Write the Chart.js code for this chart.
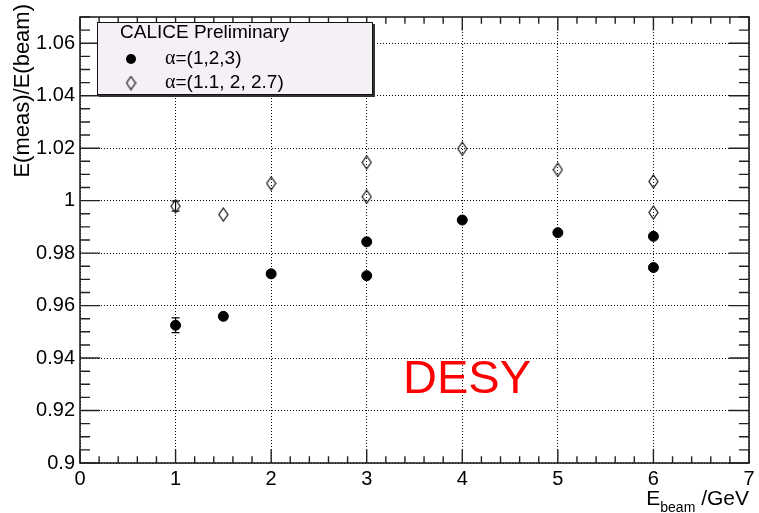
<!DOCTYPE html>
<html>
<head>
<meta charset="utf-8">
<script src="https://cdn.jsdelivr.net/npm/chart.js@4.4.1/dist/chart.umd.min.js"></script>
<style>
  html, body { margin: 0; padding: 0; background: #fff; }
  #wrap { width: 759px; height: 513px; }
</style>
</head>
<body>
<div id="wrap"><canvas id="grafico" width="759" height="513"></canvas></div>
<script>
// beam energies (GeV)
var energia = [1, 1.5, 2, 3, 3, 4, 5, 6, 6];
// E(meas)/E(beam), alpha = (1,2,3)
var razaoA = [0.9525, 0.9559, 0.9721, 0.9843, 0.9714, 0.9926, 0.9878, 0.9864, 0.9745];
var erroA = [0.0028, 0, 0, 0, 0, 0, 0, 0, 0];
// E(meas)/E(beam), alpha = (1.1, 2, 2.7)
var razaoB = [0.9979, 0.9947, 1.0066, 1.0146, 1.0015, 1.0198, 1.0118, 1.0073, 0.9955];
var erroB = [0.0019, 0, 0, 0, 0, 0, 0, 0, 0];

var legendaTitulo = "CALICE Preliminary";
var legendaA = "=(1,2,3)";
var legendaB = "=(1.1, 2, 2.7)";

var fonte = "'Liberation Sans', Arial, sans-serif";

// open diamond marker
var losango = document.createElement("canvas");
losango.width = 11;
losango.height = 15;
(function () {
    var c = losango.getContext("2d");
    c.strokeStyle = "#222";
    c.lineWidth = 1.3;
    c.beginPath();
    c.moveTo(5.5, 1);
    c.lineTo(10, 7.5);
    c.lineTo(5.5, 14);
    c.lineTo(1, 7.5);
    c.closePath();
    c.stroke();
})();

function pontos(xs, ys) {
    return xs.map(function (x, i) { return { x: x, y: ys[i] }; });
}

// error bars, drawn under the markers
var barrasErro = {
    id: "barrasErro",
    beforeDatasetsDraw: function (chart) {
        var ctx = chart.ctx, sx = chart.scales.x, sy = chart.scales.y;
        var grupos = [[razaoA, erroA], [razaoB, erroB]];
        ctx.save();
        ctx.strokeStyle = "#000";
        ctx.lineWidth = 1.2;
        grupos.forEach(function (g) {
            g[0].forEach(function (v, i) {
                var e = g[1][i];
                if (!e) return;
                var px = sx.getPixelForValue(energia[i]);
                var y1 = sy.getPixelForValue(v + e), y2 = sy.getPixelForValue(v - e);
                ctx.beginPath();
                ctx.moveTo(px, y1); ctx.lineTo(px, y2);
                ctx.moveTo(px - 4, y1); ctx.lineTo(px + 4, y1);
                ctx.moveTo(px - 4, y2); ctx.lineTo(px + 4, y2);
                ctx.stroke();
            });
        });
        ctx.restore();
    }
};

// frame with major/minor ticks on all four sides, titles, legend box and label
var moldura = {
    id: "moldura",
    afterDraw: function (chart) {
        var ctx = chart.ctx, a = chart.chartArea;
        var sx = chart.scales.x, sy = chart.scales.y;
        var w = a.right - a.left, h = a.bottom - a.top;
        ctx.save();
        ctx.strokeStyle = "#222";
        ctx.lineWidth = 1.4;
        ctx.beginPath();
        // x ticks, every 0.2
        for (var k = 0; k <= 35; k++) {
            var px = sx.getPixelForValue(k * 0.2);
            var len = (k % 5 === 0) ? 0.03 * h : 0.015 * h;
            ctx.moveTo(px, a.bottom); ctx.lineTo(px, a.bottom - len);
            ctx.moveTo(px, a.top); ctx.lineTo(px, a.top + len);
        }
        // y ticks, every 0.005
        for (var j = 0; j <= 34; j++) {
            var py = sy.getPixelForValue(0.9 + j * 0.005);
            var l2 = (j % 4 === 0) ? 0.03 * w : 0.015 * w;
            ctx.moveTo(a.left, py); ctx.lineTo(a.left + l2, py);
            ctx.moveTo(a.right, py); ctx.lineTo(a.right - l2, py);
        }
        ctx.stroke();
        ctx.lineWidth = 1.6;
        ctx.strokeRect(a.left, a.top, w, h);

        // axis titles
        ctx.fillStyle = "#000";
        ctx.font = "21px " + fonte;
        ctx.textBaseline = "alphabetic";
        ctx.textAlign = "right";
        ctx.fillText(" /GeV", a.right, 505);
        var wGeV = ctx.measureText(" /GeV").width;
        ctx.font = "14px " + fonte;
        var wSub = ctx.measureText("beam").width;
        ctx.fillText("beam", a.right - wGeV, 512);
        ctx.font = "21px " + fonte;
        ctx.fillText("E", a.right - wGeV - wSub, 505);

        ctx.save();
        ctx.translate(29, 4);
        ctx.rotate(-Math.PI / 2);
        ctx.textAlign = "right";
        ctx.font = "22px " + fonte;
        ctx.fillText("E(meas)/E(beam)", 0, 0);
        ctx.restore();

        // legend
        ctx.fillStyle = "#333";
        ctx.fillRect(99, 24, 276, 73);
        ctx.fillStyle = "#f5f0f5";
        ctx.fillRect(97, 22, 276, 73);
        ctx.strokeStyle = "#111";
        ctx.lineWidth = 1;
        ctx.strokeRect(97.5, 22.5, 275, 72);

        ctx.fillStyle = "#000";
        ctx.textAlign = "left";
        ctx.textBaseline = "middle";
        ctx.font = "19px " + fonte;
        ctx.fillText(legendaTitulo, 120, 33);

        ctx.beginPath();
        ctx.arc(131, 59, 5, 0, Math.PI * 2);
        ctx.fill();
        ctx.drawImage(losango, 131 - 5.5, 83 - 7.5);

        [[legendaA, 59], [legendaB, 83]].forEach(function (r) {
            ctx.font = "20px 'Liberation Serif', serif";
            ctx.fillText("\u03b1", 165, r[1]);
            var wa = ctx.measureText("\u03b1").width;
            ctx.font = "19px " + fonte;
            ctx.fillText(r[0], 165 + wa, r[1]);
        });

        // DESY label
        ctx.fillStyle = "#ff0000";
        ctx.textBaseline = "alphabetic";
        ctx.font = "47px " + fonte;
        ctx.fillText("DESY", 403, 393);
        ctx.restore();
    }
};

function rotuloY(v) {
    return String(Math.round(v * 100) / 100);
}

var ctx = document.getElementById("grafico");
var grafico = new Chart(ctx, {
    type: "scatter",
    data: {
        datasets: [{
            label: "alpha=(1,2,3)",
            data: pontos(energia, razaoA),
            pointStyle: "circle",
            pointRadius: 5,
            backgroundColor: "#000",
            borderColor: "#000",
            borderWidth: 1
        }, {
            label: "alpha=(1.1, 2, 2.7)",
            data: pontos(energia, razaoB),
            pointStyle: losango,
            pointRadius: 6,
            backgroundColor: "transparent",
            borderColor: "#222"
        }]
    },
    options: {
        responsive: false,
        animation: false,
        devicePixelRatio: 1,
        layout: { padding: { top: 10, right: 10, left: 0, bottom: 0 } },
        plugins: {
            legend: { display: false },
            tooltip: { enabled: false }
        },
        scales: {
            x: {
                type: "linear",
                min: 0,
                max: 7,
                afterFit: function (s) { s.height = 50; },
                grid: { color: "#000", lineWidth: 1, drawTicks: false },
                border: { display: false, dash: [1, 2] },
                ticks: {
                    stepSize: 1,
                    padding: 4,
                    color: "#000",
                    font: { family: fonte, size: 20 },
                    maxRotation: 0
                }
            },
            y: {
                type: "linear",
                min: 0.9,
                max: 1.07,
                afterFit: function (s) { s.width = 80; },
                grid: { color: "#000", lineWidth: 1, drawTicks: false },
                border: { display: false, dash: [1, 2] },
                ticks: {
                    stepSize: 0.02,
                    includeBounds: false,
                    padding: 5,
                    color: "#000",
                    font: { family: fonte, size: 20 },
                    callback: rotuloY
                }
            }
        }
    },
    plugins: [barrasErro, moldura]
});
</script>
</body>
</html>
